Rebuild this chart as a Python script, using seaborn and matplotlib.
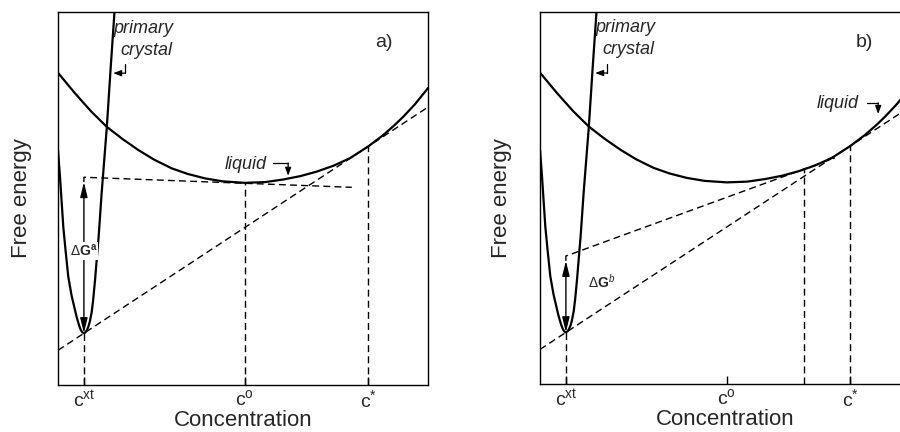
import matplotlib
matplotlib.use("Agg")
import matplotlib.pyplot as plt
import pandas as pd
import seaborn as sns

# ---------------- data (axes units 0-100) ----------------
liquid_x = [0, 4.6, 9, 13.2, 17.5, 21.7, 26, 30.7, 35, 39.7, 44.5, 50.5, 56, 60.9,
            65.5, 69.9, 74.5, 78.9, 83.9, 87.9, 91, 93.3, 96.5, 100]
liquid_y = [83.7, 78.2, 73.3, 69.2, 65.9, 63.0, 60.4, 58.1, 56.6, 55.4, 54.6, 54.2, 54.4, 55.1,
            56.0, 57.2, 58.8, 60.8, 64.0, 67.0, 69.7, 71.9, 75.3, 79.6]

crystal_x = [0, 0.54, 1.43, 2.03, 2.78, 3.65, 4.59, 5.0, 5.4, 5.8, 6.2, 6.6, 7.0, 7.4, 7.8,
             8.2, 8.6, 9.1, 9.5, 10.0, 11.0, 11.8, 13.2, 14.2, 15.3]
crystal_y = [63.0, 55.8, 42.4, 36.2, 29.0, 24.1, 20.1, 18.4, 17.0, 15.7, 14.7, 14.1, 13.9, 14.1, 14.7,
             15.6, 17.0, 19.5, 22.8, 28.0, 40.0, 51.5, 69.2, 84.5, 100.5]

# common tangent (crystal minimum -> liquid at c*)
common_x = [0, 100]
common_y = [9.3, 74.5]
# panel a: tangent to the liquid at c0
tan_a_x = [7.0, 79.4]
tan_a_y = [55.7, 53.0]
# panel b: tangent to the liquid at the second composition
tan_b_x = [7.0, 79.7]
tan_b_y = [34.4, 60.8]

tick_pos_a = [7.0, 50.5, 83.9]
tick_pos_b = [7.0, 50.5, 83.9]
tick_labels = ["c$^{\\mathrm{xt}}$", "c$^{\\mathrm{o}}$", "c$^{*}$"]

# vertical guides: (x, top y)
guides_a = [(7.0, 13.9), (50.5, 54.2), (83.9, 64.0)]
guides_b = [(7.0, 13.9), (71.4, 57.75), (83.9, 64.0)]

dG_a = (7.0, 13.9, 55.7)
dG_b = (7.0, 13.9, 34.4)

# ---------------- style ----------------
sns.set_theme(style="white")
plt.rcParams["font.family"] = ["Liberation Sans", "DejaVu Sans"]
plt.rcParams["mathtext.fontset"] = "custom"
plt.rcParams["mathtext.rm"] = "Liberation Sans"
plt.rcParams["mathtext.it"] = "Liberation Sans:italic"
plt.rcParams["mathtext.bf"] = "Liberation Sans:bold"
plt.rcParams["mathtext.sf"] = "Liberation Sans"

fig = plt.figure(figsize=(9, 4.32), dpi=100)
ax_a = fig.add_axes([58 / 900, 47 / 432, 370 / 900, 373 / 432])
ax_b = fig.add_axes([540 / 900, 48 / 432, 370 / 900, 372 / 432])

DASH = (0, (5, 3))
SOLID_LW = 1.6


def draw_panel(ax, tan_x, tan_y, guides, dG, dG_label, dG_text_pos, dG_boxed,
               ticks, tag, liquid_txt, liquid_callout, ylab_x):
    liq = pd.DataFrame({"x": liquid_x, "y": liquid_y})
    cry = pd.DataFrame({"x": crystal_x, "y": crystal_y})
    sns.lineplot(data=liq, x="x", y="y", ax=ax, color="black", lw=SOLID_LW,
                 estimator=None, sort=False)
    sns.lineplot(data=cry, x="x", y="y", ax=ax, color="black", lw=SOLID_LW,
                 estimator=None, sort=False)
    com = pd.DataFrame({"x": common_x, "y": common_y})
    sns.lineplot(data=com, x="x", y="y", ax=ax, color="black", lw=1.0,
                 estimator=None, sort=False).lines[-1].set_linestyle(DASH)
    # tangent with a little hook at its left end
    tx = [tan_x[0], tan_x[0], tan_x[1]]
    ty = [tan_y[0] - 1.3, tan_y[0], tan_y[1]]
    ax.plot(tx, ty, color="black", lw=1.0, linestyle=DASH)
    for gx, gy in guides:
        ax.plot([gx, gx], [0, gy], color="black", lw=1.0, linestyle=DASH)

    # delta G arrow
    x0, yb, yt = dG
    ax.annotate("", xy=(x0, yt - 1.3), xytext=(x0, yb),
                arrowprops=dict(arrowstyle="<|-|>,head_length=0.9,head_width=0.22",
                                color="black", lw=1.0, mutation_scale=10,
                                shrinkA=0, shrinkB=0))
    bbox = dict(facecolor="white", edgecolor="none", pad=0.5) if dG_boxed else None
    ax.text(dG_text_pos[0], dG_text_pos[1], dG_label, fontsize=10, ha="center",
            va="center", bbox=bbox, zorder=5)

    # primary crystal label + callout
    ax.text(14.9, 95.7, "primary", fontsize=13, style="italic", ha="left", va="center")
    ax.text(16.8, 89.8, "crystal", fontsize=13, style="italic", ha="left", va="center")
    ax.plot([18.1, 18.1], [86.0, 83.6], color="black", lw=0.9)
    ax.annotate("", xy=(14.9, 83.6), xytext=(18.1, 83.6),
                arrowprops=dict(arrowstyle="-|>,head_length=0.8,head_width=0.3",
                                color="black", lw=0.9, mutation_scale=6,
                                shrinkA=0, shrinkB=0))

    # liquid label + callout
    lx, ly = liquid_txt
    ax.text(lx, ly, "liquid", fontsize=13, style="italic", ha="left", va="center")
    cx0, cx1, cy0, cy1 = liquid_callout
    ax.plot([cx0, cx1], [cy0, cy0], color="black", lw=0.9)
    ax.annotate("", xy=(cx1, cy1), xytext=(cx1, cy0),
                arrowprops=dict(arrowstyle="-|>,head_length=0.8,head_width=0.3",
                                color="black", lw=0.9, mutation_scale=6,
                                shrinkA=0, shrinkB=0))

    ax.text(tag[0], tag[1], tag[2], fontsize=14, ha="center", va="center")

    ax.set_xlim(0, 100)
    ax.set_ylim(0, 100)
    ax.set_xticks(ticks)
    ax.set_xticklabels(tick_labels)
    ax.set_yticks([])
    ax.tick_params(axis="x", direction="in", length=6, width=1.0, pad=3,
                   labelsize=14, color="black", bottom=True)
    for s in ax.spines.values():
        s.set_color("black")
        s.set_linewidth(1.0)
    ax.set_xlabel("Concentration", fontsize=16)
    ax.set_ylabel("Free energy", fontsize=16)
    ax.xaxis.set_label_coords(0.5, -0.066)
    ax.yaxis.set_label_coords(ylab_x, 0.5)


draw_panel(ax_a, tan_a_x, tan_a_y, guides_a, dG_a, "$\\Delta\\mathbf{G}^{\\mathbf{a}}$",
           (7.0, 35.9), True, tick_pos_a, (88.1, 91.7, "a)"),
           (45.1, 59.0), (58.1, 62.2, 59.5, 56.1), -0.070)
draw_panel(ax_b, tan_b_x, tan_b_y, guides_b, dG_b, "$\\Delta\\mathbf{G}^{\\mathit{b}}$",
           (16.8, 27.4), False, tick_pos_b, (87.6, 91.7, "b)"),
           (74.9, 75.5), (88.3, 91.4, 75.6, 72.6), -0.076)

fig.savefig("out.png", dpi=100)
